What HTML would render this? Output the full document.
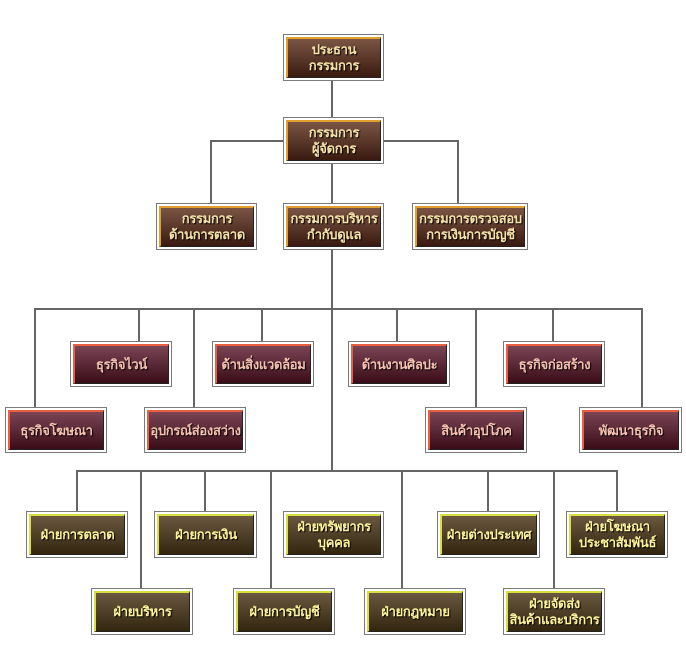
<!DOCTYPE html>
<html><head><meta charset="utf-8"><style>
body{margin:0;width:686px;height:664px;background:#fff;position:relative;overflow:hidden;font-family:"Liberation Sans","Noto Sans CJK SC",sans-serif}
.l{position:absolute;background:#666}
.b{position:absolute;box-sizing:border-box;border:1px solid #7a7a7a;padding:2px;background:#fff}
.b>div{width:100%;height:100%;box-sizing:border-box;display:flex;align-items:center;justify-content:center;text-align:center;font-size:13px;line-height:16px;font-weight:bold;text-shadow:1px 1px 1px #000;border-right:1px solid #222;border-bottom:1px solid #222;white-space:nowrap;letter-spacing:-0.3px;overflow:visible}
.br>div{background:linear-gradient(#7a5544,#3a1a10);color:#f6e2a8;border-left:2px solid #e0a030;border-top:2px solid #e0a030}
.rd>div{background:linear-gradient(#7a4555,#3a0c18);color:#f5c0b0;border-left:2px solid #e86040;border-top:2px solid #e86040}
.ol>div{background:linear-gradient(#6a5840,#33260f);color:#fbf29a;border-left:2px solid #d8e040;border-top:2px solid #d8e040}
</style></head><body>
<div class="l" style="left:331px;top:80px;width:2px;height:37px"></div>
<div class="l" style="left:210px;top:140px;width:249px;height:2px"></div>
<div class="l" style="left:210px;top:140px;width:2px;height:63px"></div>
<div class="l" style="left:457px;top:140px;width:2px;height:63px"></div>
<div class="l" style="left:331px;top:164px;width:2px;height:39px"></div>
<div class="l" style="left:331px;top:250px;width:2px;height:221px"></div>
<div class="l" style="left:34px;top:308px;width:609px;height:2px"></div>
<div class="l" style="left:34px;top:308px;width:2px;height:99px"></div>
<div class="l" style="left:138px;top:308px;width:2px;height:33px"></div>
<div class="l" style="left:193px;top:308px;width:2px;height:99px"></div>
<div class="l" style="left:261px;top:308px;width:2px;height:33px"></div>
<div class="l" style="left:396px;top:308px;width:2px;height:33px"></div>
<div class="l" style="left:475px;top:308px;width:2px;height:99px"></div>
<div class="l" style="left:552px;top:308px;width:2px;height:33px"></div>
<div class="l" style="left:641px;top:308px;width:2px;height:99px"></div>
<div class="l" style="left:76px;top:470px;width:541px;height:2px"></div>
<div class="l" style="left:76px;top:470px;width:2px;height:41px"></div>
<div class="l" style="left:140px;top:470px;width:2px;height:118px"></div>
<div class="l" style="left:204px;top:470px;width:2px;height:41px"></div>
<div class="l" style="left:270px;top:470px;width:2px;height:118px"></div>
<div class="l" style="left:401px;top:470px;width:2px;height:118px"></div>
<div class="l" style="left:487px;top:470px;width:2px;height:41px"></div>
<div class="l" style="left:553px;top:470px;width:2px;height:118px"></div>
<div class="l" style="left:616px;top:470px;width:2px;height:41px"></div>
<div class="b br" style="left:283px;top:34px;width:101px;height:47px"><div>ประธาน<br>กรรมการ</div></div>
<div class="b br" style="left:283px;top:117px;width:101px;height:47px"><div>กรรมการ<br>ผู้จัดการ</div></div>
<div class="b br" style="left:156px;top:203px;width:101px;height:47px"><div>กรรมการ<br>ด้านการตลาด</div></div>
<div class="b br" style="left:283px;top:203px;width:101px;height:47px"><div>กรรมการบริหาร<br>กำกับดูแล</div></div>
<div class="b br" style="left:412px;top:203px;width:116px;height:47px"><div>กรรมการตรวจสอบ<br>การเงินการบัญชี</div></div>
<div class="b rd" style="left:70px;top:341px;width:102px;height:46px"><div>ธุรกิจไวน์</div></div>
<div class="b rd" style="left:212px;top:341px;width:102px;height:46px"><div>ด้านสิ่งแวดล้อม</div></div>
<div class="b rd" style="left:348px;top:341px;width:102px;height:46px"><div>ด้านงานศิลปะ</div></div>
<div class="b rd" style="left:503px;top:341px;width:102px;height:46px"><div>ธุรกิจก่อสร้าง</div></div>
<div class="b rd" style="left:5px;top:407px;width:102px;height:46px"><div>ธุรกิจโฆษณา</div></div>
<div class="b rd" style="left:144px;top:407px;width:102px;height:46px"><div>อุปกรณ์ส่องสว่าง</div></div>
<div class="b rd" style="left:425px;top:407px;width:102px;height:46px"><div>สินค้าอุปโภค</div></div>
<div class="b rd" style="left:579px;top:407px;width:103px;height:46px"><div>พัฒนาธุรกิจ</div></div>
<div class="b ol" style="left:26px;top:511px;width:102px;height:47px"><div>ฝ่ายการตลาด</div></div>
<div class="b ol" style="left:154px;top:511px;width:103px;height:47px"><div>ฝ่ายการเงิน</div></div>
<div class="b ol" style="left:283px;top:511px;width:101px;height:47px"><div>ฝ่ายทรัพยากร<br>บุคคล</div></div>
<div class="b ol" style="left:437px;top:511px;width:103px;height:47px"><div>ฝ่ายต่างประเทศ</div></div>
<div class="b ol" style="left:566px;top:511px;width:102px;height:47px"><div>ฝ่ายโฆษณา<br>ประชาสัมพันธ์</div></div>
<div class="b ol" style="left:91px;top:588px;width:102px;height:47px"><div>ฝ่ายบริหาร</div></div>
<div class="b ol" style="left:233px;top:588px;width:102px;height:47px"><div>ฝ่ายการบัญชี</div></div>
<div class="b ol" style="left:364px;top:588px;width:102px;height:47px"><div>ฝ่ายกฎหมาย</div></div>
<div class="b ol" style="left:503px;top:588px;width:102px;height:47px"><div>ฝ่ายจัดส่ง<br>สินค้าและบริการ</div></div>
</body></html>
